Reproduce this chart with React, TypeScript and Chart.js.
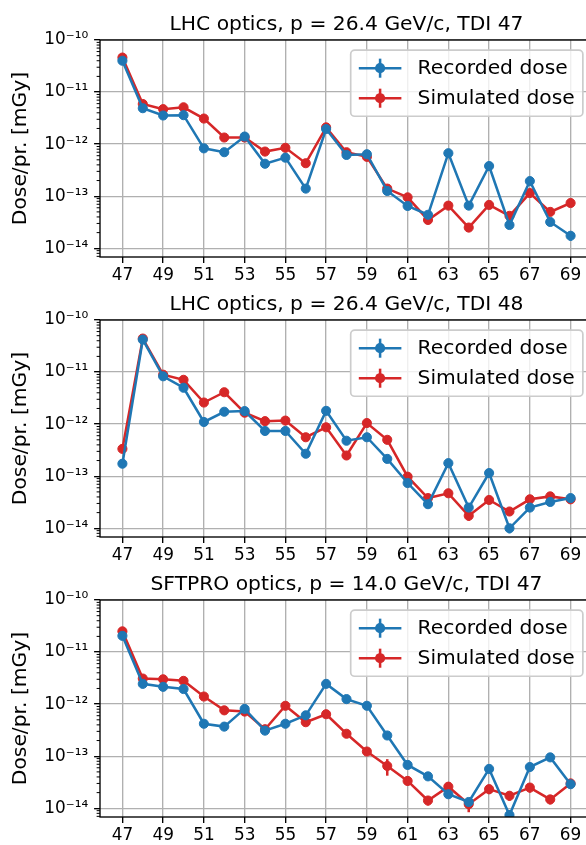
import React, { useEffect, useRef } from "react";
import { Chart, registerables } from "chart.js";
Chart.register(...registerables);

const FONT = "'DejaVu Sans', sans-serif";
const BLUE = "#1f77b4";
const RED = "#d62728";

// ---- data ----
const stations = [47, 48, 49, 50, 51, 52, 53, 54, 55, 56, 57, 58, 59, 60, 61, 62, 63, 64, 65, 66, 67, 68, 69];
const xTickValues = [47, 49, 51, 53, 55, 57, 59, 61, 63, 65, 67, 69];
const yTickValues = [1e-14, 1e-13, 1e-12, 1e-11, 1e-10];
const X_MIN = 45.9;
const X_MAX = 70.1;
const Y_MIN = 6.8e-15;
const Y_MAX = 1e-10;

const panelTitles = [
  "LHC optics, p = 26.4 GeV/c, TDI 47",
  "LHC optics, p = 26.4 GeV/c, TDI 48",
  "SFTPRO optics, p = 14.0 GeV/c, TDI 47",
];
const seriesLabels = ["Recorded dose", "Simulated dose"];
const yAxisLabel = "Dose/pr. [mGy]";

const recordedLhc47 = [4.0e-11, 4.9e-12, 3.55e-12, 3.6e-12, 8.3e-13, 7.0e-13, 1.4e-12, 4.2e-13, 5.5e-13, 1.4e-13, 1.95e-12, 6.2e-13, 6.4e-13, 1.26e-13, 6.5e-14, 4.4e-14, 6.7e-13, 6.6e-14, 3.8e-13, 2.8e-14, 1.95e-13, 3.2e-14, 1.74e-14];
const simulatedLhc47 = [4.6e-11, 5.9e-12, 4.7e-12, 5.1e-12, 3.1e-12, 1.34e-12, 1.34e-12, 7.2e-13, 8.5e-13, 4.3e-13, 2.1e-12, 7.0e-13, 5.7e-13, 1.4e-13, 9.5e-14, 3.5e-14, 6.6e-14, 2.5e-14, 6.8e-14, 4.2e-14, 1.15e-13, 5.0e-14, 7.4e-14];

const recordedLhc48 = [1.74e-13, 4.2e-11, 8.3e-12, 5.0e-12, 1.1e-12, 1.73e-12, 1.78e-12, 7.4e-13, 7.4e-13, 2.7e-13, 1.8e-12, 4.8e-13, 5.6e-13, 2.15e-13, 7.4e-14, 2.9e-14, 1.78e-13, 2.5e-14, 1.15e-13, 1.0e-14, 2.5e-14, 3.2e-14, 3.8e-14];
const simulatedLhc48 = [3.35e-13, 4.4e-11, 8.9e-12, 7.1e-12, 2.6e-12, 4.1e-12, 1.66e-12, 1.14e-12, 1.17e-12, 5.6e-13, 8.7e-13, 2.5e-13, 1.05e-12, 5.0e-13, 9.8e-14, 3.8e-14, 4.7e-14, 1.74e-14, 3.5e-14, 2.1e-14, 3.6e-14, 4.1e-14, 3.6e-14];

const recordedSftpro47 = [2.05e-11, 2.45e-12, 2.15e-12, 1.95e-12, 4.2e-13, 3.7e-13, 8.1e-13, 3.1e-13, 4.2e-13, 6.1e-13, 2.45e-12, 1.25e-12, 9.3e-13, 2.5e-13, 6.8e-14, 4.1e-14, 1.86e-14, 1.32e-14, 5.7e-14, 7.4e-15, 6.2e-14, 9.5e-14, 2.9e-14];
const simulatedSftpro47 = [2.5e-11, 3.1e-12, 3.0e-12, 2.8e-12, 1.4e-12, 7.6e-13, 7.2e-13, 3.3e-13, 9.3e-13, 4.5e-13, 6.4e-13, 2.7e-13, 1.23e-13, 6.5e-14, 3.35e-14, 1.41e-14, 2.6e-14, 1.2e-14, 2.33e-14, 1.74e-14, 2.5e-14, 1.48e-14, 3.0e-14];

// relative uncertainties (fraction of value)
const recordedErrLhc47 = [0.02, 0.03, 0.03, 0.03, 0.05, 0.05, 0.04, 0.06, 0.06, 0.08, 0.03, 0.06, 0.06, 0.08, 0.1, 0.12, 0.05, 0.1, 0.06, 0.15, 0.12, 0.15, 0.2];
const simulatedErrLhc47 = [0.03, 0.05, 0.05, 0.05, 0.06, 0.08, 0.08, 0.1, 0.1, 0.1, 0.06, 0.1, 0.1, 0.12, 0.12, 0.15, 0.12, 0.18, 0.12, 0.15, 0.12, 0.15, 0.12];
const recordedErrLhc48 = [0.08, 0.02, 0.03, 0.03, 0.05, 0.04, 0.04, 0.06, 0.06, 0.08, 0.04, 0.06, 0.06, 0.08, 0.1, 0.15, 0.08, 0.15, 0.1, 0.2, 0.15, 0.15, 0.12];
const simulatedErrLhc48 = [0.1, 0.03, 0.05, 0.05, 0.06, 0.06, 0.08, 0.1, 0.1, 0.1, 0.1, 0.12, 0.1, 0.1, 0.12, 0.15, 0.15, 0.2, 0.15, 0.15, 0.15, 0.2, 0.15];
const recordedErrSftpro47 = [0.02, 0.03, 0.03, 0.03, 0.06, 0.06, 0.05, 0.06, 0.06, 0.05, 0.03, 0.04, 0.04, 0.06, 0.1, 0.12, 0.15, 0.15, 0.1, 0.25, 0.1, 0.08, 0.12];
const simulatedErrSftpro47 = [0.04, 0.06, 0.06, 0.06, 0.08, 0.1, 0.1, 0.12, 0.08, 0.1, 0.1, 0.12, 0.15, 0.35, 0.18, 0.2, 0.2, 0.3, 0.2, 0.2, 0.2, 0.2, 0.18];

const panelRecorded = [recordedLhc47, recordedLhc48, recordedSftpro47];
const panelSimulated = [simulatedLhc47, simulatedLhc48, simulatedSftpro47];
const panelRecordedErr = [recordedErrLhc47, recordedErrLhc48, recordedErrSftpro47];
const panelSimulatedErr = [simulatedErrLhc47, simulatedErrLhc48, simulatedErrSftpro47];

// ---- style constants ----
const PT = 1.69;
const TICK_FS = 10 * PT;
const BIG_FS = 12 * PT;
const LINE_W = 1.5 * PT;
const MARKER_R = 3 * PT;

const SUP: Record<string, string> = {
  "-": "\u207B", "0": "\u2070", "1": "\u00B9", "2": "\u00B2", "3": "\u00B3",
  "4": "\u2074", "5": "\u2075", "6": "\u2076", "7": "\u2077", "8": "\u2078", "9": "\u2079",
};
function sciLabel(v: number): string {
  const e = Math.round(Math.log10(v));
  return "10" + String(e).split("").map((c) => SUP[c] || c).join("");
}

function makeDecor(title: string, errs: number[][]) {
  return {
    id: "decor",
    beforeDatasetsDraw(chart: any) {
      const { ctx, chartArea: a } = chart;
      const ys = chart.scales.y;
      ctx.save();
      ctx.beginPath();
      ctx.rect(a.left, a.top, a.right - a.left, a.bottom - a.top);
      ctx.clip();
      chart.data.datasets.forEach((ds: any, di: number) => {
        const meta = chart.getDatasetMeta(di);
        ctx.strokeStyle = ds.borderColor;
        ctx.lineWidth = LINE_W;
        ds.data.forEach((p: any, i: number) => {
          const e = errs[di][i];
          const el = meta.data[i];
          if (!el) return;
          const y1 = ys.getPixelForValue(p.y * (1 + e));
          const y2 = ys.getPixelForValue(p.y * (1 - e));
          ctx.beginPath();
          ctx.moveTo(el.x, y1);
          ctx.lineTo(el.x, y2);
          ctx.stroke();
        });
      });
      ctx.restore();
    },
    afterDatasetsDraw(chart: any) {
      const { ctx, chartArea: a } = chart;
      const ys = chart.scales.y;
      ctx.save();
      ctx.strokeStyle = "#000";
      ctx.lineWidth = 0.8 * PT;
      ctx.strokeRect(a.left, a.top, a.right - a.left, a.bottom - a.top);
      // minor ticks on log axis
      ctx.lineWidth = 0.6 * PT;
      for (let d = -15; d <= -11; d++) {
        for (let m = 2; m <= 9; m++) {
          const v = m * Math.pow(10, d);
          if (v < Y_MIN || v > Y_MAX) continue;
          const y = ys.getPixelForValue(v);
          ctx.beginPath();
          ctx.moveTo(a.left - 2 * PT, y);
          ctx.lineTo(a.left, y);
          ctx.stroke();
        }
      }
      ctx.restore();
    },
    afterDraw(chart: any) {
      const { ctx, chartArea: a } = chart;
      ctx.save();
      // title
      ctx.fillStyle = "#000";
      ctx.font = `${BIG_FS}px ${FONT}`;
      ctx.textAlign = "center";
      ctx.textBaseline = "alphabetic";
      ctx.fillText(title, (a.left + a.right) / 2, a.top - 6 * PT);
      // legend
      const fs = BIG_FS;
      ctx.font = `${fs}px ${FONT}`;
      const textW = Math.max(...chart.data.datasets.map((d: any) => ctx.measureText(d.label).width));
      const borderPad = 0.4 * fs;
      const handleLen = 2.1 * fs;
      const handlePad = 0.8 * fs;
      const rowH = 0.98 * fs;
      const spacing = 0.5 * fs;
      const w = borderPad * 2 + handleLen + handlePad + textW;
      const h = borderPad * 2 + rowH * 2 + spacing;
      const x0 = a.right - 0.5 * fs - w;
      const y0 = a.top + 0.5 * fs;
      ctx.beginPath();
      ctx.roundRect(x0, y0, w, h, 0.2 * fs);
      ctx.fillStyle = "rgba(255,255,255,0.8)";
      ctx.fill();
      ctx.strokeStyle = "#cccccc";
      ctx.lineWidth = 1.0 * PT;
      ctx.stroke();
      chart.data.datasets.forEach((ds: any, i: number) => {
        const cy = y0 + borderPad + rowH / 2 + i * (rowH + spacing);
        const hx = x0 + borderPad;
        ctx.strokeStyle = ds.borderColor;
        ctx.fillStyle = ds.borderColor;
        ctx.lineWidth = LINE_W;
        ctx.beginPath();
        ctx.moveTo(hx, cy);
        ctx.lineTo(hx + handleLen, cy);
        ctx.stroke();
        ctx.beginPath();
        ctx.moveTo(hx + handleLen / 2, cy - 0.47 * fs);
        ctx.lineTo(hx + handleLen / 2, cy + 0.47 * fs);
        ctx.stroke();
        ctx.beginPath();
        ctx.arc(hx + handleLen / 2, cy, MARKER_R, 0, Math.PI * 2);
        ctx.fill();
        ctx.fillStyle = "#000";
        ctx.textAlign = "left";
        ctx.textBaseline = "middle";
        ctx.fillText(ds.label, hx + handleLen + handlePad, cy + 1);
      });
      ctx.restore();
    },
  };
}

function Panel({ index }: { index: number }) {
  const ref = useRef<HTMLCanvasElement>(null);
  useEffect(() => {
    const rec = panelRecorded[index];
    const sim = panelSimulated[index];
    const chart = new Chart(ref.current as HTMLCanvasElement, {
      type: "line",
      data: {
        datasets: [
          {
            label: seriesLabels[0],
            data: stations.map((x, i) => ({ x, y: rec[i] })),
            borderColor: BLUE,
            backgroundColor: BLUE,
            borderWidth: LINE_W,
            pointRadius: MARKER_R - 0.5,
            pointBorderWidth: 1,
            pointBorderColor: BLUE,
            pointBackgroundColor: BLUE,
            tension: 0,
            clip: 0,
          } as any,
          {
            label: seriesLabels[1],
            data: stations.map((x, i) => ({ x, y: sim[i] })),
            borderColor: RED,
            backgroundColor: RED,
            borderWidth: LINE_W,
            pointRadius: MARKER_R - 0.5,
            pointBorderWidth: 1,
            pointBorderColor: RED,
            pointBackgroundColor: RED,
            tension: 0,
            clip: 0,
          } as any,
        ],
      },
      options: {
        animation: false,
        responsive: false,
        devicePixelRatio: 1,
        events: [],
        layout: { padding: { top: 40, right: 7, left: 0, bottom: 0 } },
        plugins: { legend: { display: false }, tooltip: { enabled: false }, title: { display: false } },
        scales: {
          x: {
            type: "linear",
            min: X_MIN,
            max: X_MAX,
            afterBuildTicks: (s: any) => {
              s.ticks = xTickValues.map((v) => ({ value: v }));
            },
            afterFit: (s: any) => {
              s.height = 28;
            },
            ticks: {
              autoSkip: false,
              maxRotation: 0,
              padding: 3,
              color: "#000",
              font: { family: FONT, size: TICK_FS },
              callback: (v: any) => String(v),
            },
            grid: { color: "#b0b0b0", lineWidth: 0.8 * PT, tickLength: 3.5 * PT, tickColor: "#000", tickWidth: 0.8 * PT },
            border: { display: false },
          },
          y: {
            type: "logarithmic",
            min: Y_MIN,
            max: Y_MAX,
            afterBuildTicks: (s: any) => {
              s.ticks = yTickValues.map((v) => ({ value: v }));
            },
            afterFit: (s: any) => {
              s.width = 100;
            },
            ticks: {
              autoSkip: false,
              padding: 3.5 * PT,
              color: "#000",
              font: { family: FONT, size: TICK_FS },
              callback: (v: any) => sciLabel(Number(v)),
            },
            grid: { color: "#b0b0b0", lineWidth: 0.8 * PT, tickLength: 3.5 * PT, tickColor: "#000", tickWidth: 0.8 * PT },
            border: { display: false },
            title: {
              display: true,
              text: yAxisLabel,
              color: "#000",
              font: { family: FONT, size: BIG_FS },
              padding: { top: 9, bottom: 0 },
            },
          },
        },
      } as any,
      plugins: [makeDecor(panelTitles[index], [panelRecordedErr[index], panelSimulatedErr[index]])],
    });
    return () => chart.destroy();
  }, [index]);
  return (
    <canvas
      ref={ref}
      width={600}
      height={285}
      style={{ position: "absolute", left: 0, top: index * 280, width: 600, height: 285 }}
    />
  );
}

export default function App() {
  return (
    <div
      style={{
        position: "absolute",
        left: 0,
        top: 0,
        width: 586,
        height: 845,
        overflow: "hidden",
        background: "#fff",
      }}
    >
      <Panel index={0} />
      <Panel index={1} />
      <Panel index={2} />
    </div>
  );
}
